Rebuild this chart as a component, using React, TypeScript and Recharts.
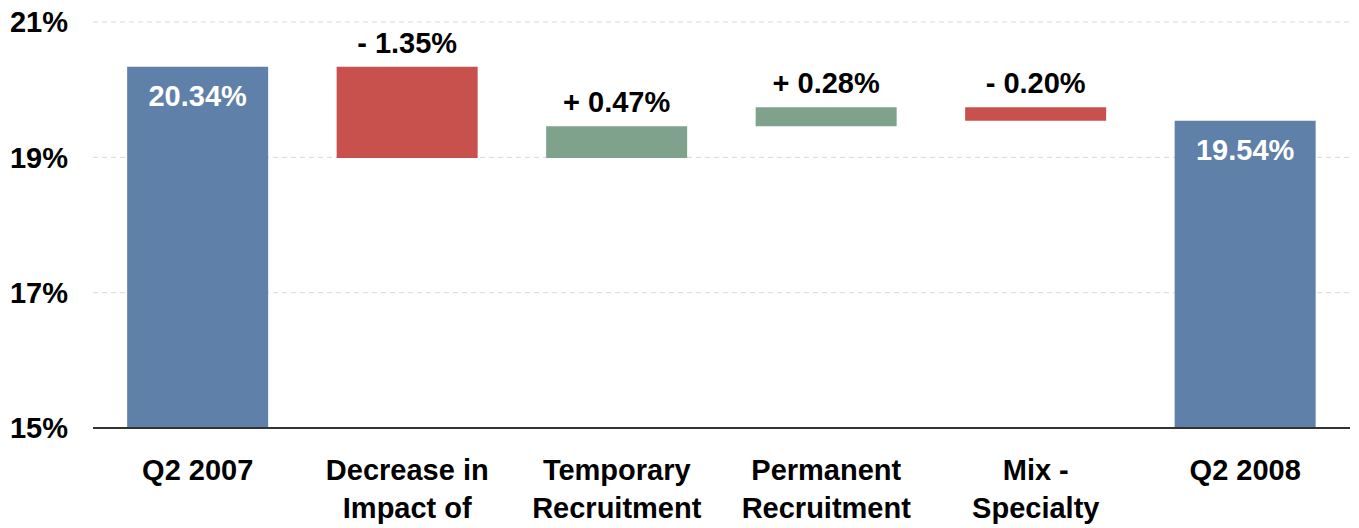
import React from 'react';
import { BarChart, Bar, XAxis, YAxis, CartesianGrid, Cell, LabelList, ReferenceLine } from 'recharts';

const categories = [
  ['Q2 2007'],
  ['Decrease in', 'Impact of'],
  ['Temporary', 'Recruitment'],
  ['Permanent', 'Recruitment'],
  ['Mix -', 'Specialty'],
  ['Q2 2008'],
];
const startValue = 20.34;
const changes = [-1.35, 0.47, 0.28, -0.2];
const endValue = 19.54;
const yTicks = [15, 17, 19, 21];

const BLUE = '#5f80a9';
const RED = '#c8504d';
const GREEN = '#7ea28c';

type Row = { name: string; lines: string[]; range: [number, number]; kind: 'total' | 'up' | 'down'; label: string };

const buildRows = (): Row[] => {
  const rows: Row[] = [];
  rows.push({ name: categories[0].join(' '), lines: categories[0], range: [15, startValue], kind: 'total', label: `${startValue.toFixed(2)}%` });
  let level = startValue;
  changes.forEach((c, i) => {
    const next = level + c;
    const cat = categories[i + 1];
    rows.push({
      name: cat.join(' '),
      lines: cat,
      range: [Math.min(level, next), Math.max(level, next)],
      kind: c < 0 ? 'down' : 'up',
      label: `${c < 0 ? '-' : '+'} ${Math.abs(c).toFixed(2)}%`,
    });
    level = next;
  });
  const last = categories[categories.length - 1];
  rows.push({ name: last.join(' '), lines: last, range: [15, endValue], kind: 'total', label: `${endValue.toFixed(2)}%` });
  return rows;
};

const data = buildRows();

const font = '"Liberation Sans", Arial, sans-serif';
const FS = 29;

const CategoryTick = (props: any) => {
  const { x, y, payload } = props;
  const row = data.find((d) => d.name === payload.value);
  const lines = row ? row.lines : [payload.value];
  return (
    <text x={x} y={y} textAnchor="middle" fontFamily={font} fontWeight="bold" fontSize={FS} fill="#000">
      {lines.map((l, i) => (
        <tspan key={i} x={x} y={y + 44 + i * 38}>
          {l}
        </tspan>
      ))}
    </text>
  );
};

const ValueLabel = (props: any) => {
  const { x, y, width, index } = props;
  const row = data[index];
  const cx = x + width / 2;
  if (row.kind === 'total') {
    return (
      <text x={cx} y={y + 39} textAnchor="middle" fontFamily={font} fontWeight="bold" fontSize={FS} fill="#fff">
        {row.label}
      </text>
    );
  }
  return (
    <text x={cx} y={y - 14} textAnchor="middle" fontFamily={font} fontWeight="bold" fontSize={FS} fill="#000">
      {row.label}
    </text>
  );
};

const App: React.FC = () => {
  return (
    <div style={{ position: 'absolute', left: 0, top: 0, background: '#fff' }}>
      <BarChart
        width={1359}
        height={528}
        data={data}
        margin={{ top: 22, right: 9, left: 0, bottom: 0 }}
        barCategoryGap="16.3%"
      >
        <CartesianGrid vertical={false} stroke="#d9d9d9" strokeDasharray="5 4" />
        <XAxis
          dataKey="name"
          axisLine={false}
          tickLine={false}
          interval={0}
          height={100}
          tick={<CategoryTick />}
        />
        <YAxis
          domain={[15, 21]}
          ticks={yTicks}
          width={93}
          axisLine={false}
          tickLine={false}
          tickSize={0}
          tickMargin={25}
          tickFormatter={(v) => `${v}%`}
          tick={{ fontFamily: font, fontWeight: 'bold', fontSize: FS, fill: '#000' }}
        />
        <ReferenceLine y={15} stroke="#333" strokeWidth={2} />
        <Bar dataKey="range" isAnimationActive={false}>
          {data.map((d, i) => (
            <Cell key={i} fill={d.kind === 'total' ? BLUE : d.kind === 'up' ? GREEN : RED} />
          ))}
          <LabelList dataKey="label" content={<ValueLabel />} />
        </Bar>
      </BarChart>
    </div>
  );
};

export default App;
